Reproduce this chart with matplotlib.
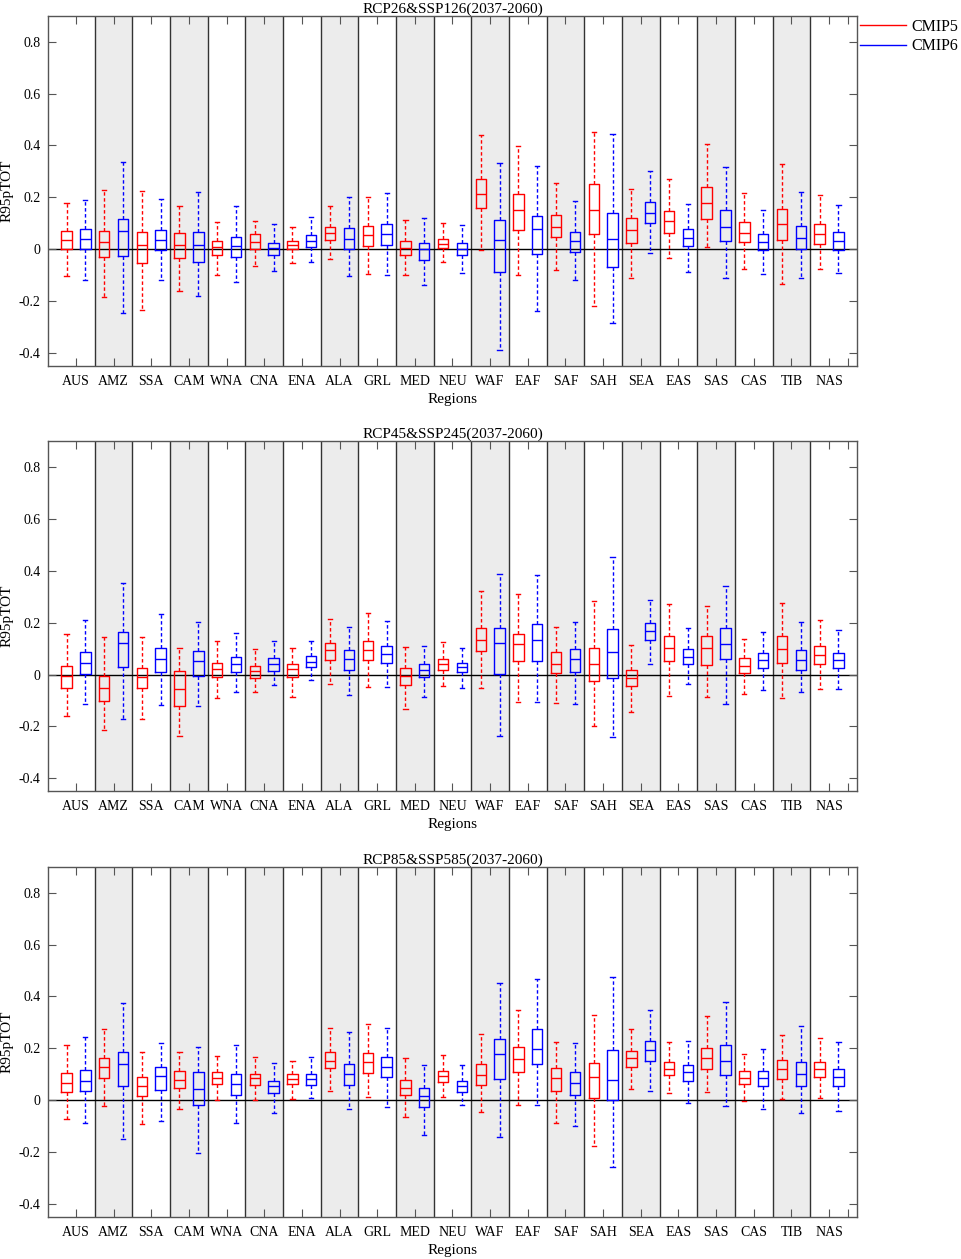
import matplotlib
matplotlib.use('Agg')
import matplotlib.pyplot as plt
from matplotlib.lines import Line2D

plt.rcParams['font.family'] = ['Liberation Serif', 'DejaVu Serif']

regions = ['AUS', 'AMZ', 'SSA', 'CAM', 'WNA', 'CNA', 'ENA', 'ALA', 'GRL', 'MED', 'NEU',
           'WAF', 'EAF', 'SAF', 'SAH', 'SEA', 'EAS', 'SAS', 'CAS', 'TIB', 'NAS']
titles = ['RCP26&SSP126(2037-2060)', 'RCP45&SSP245(2037-2060)', 'RCP85&SSP585(2037-2060)']
series_names = ['CMIP5', 'CMIP6']
yticks = [-0.4, -0.2, 0, 0.2, 0.4, 0.6, 0.8]
ytick_labels = ['-0.4', '-0.2', '0', '0.2', '0.4', '0.6', '0.8']

# ---- Panel 1: RCP26 & SSP126 ----
p1_c5_lo = [-0.105, -0.184, -0.233, -0.162, -0.099, -0.064, -0.054, -0.039, -0.094, -0.100, -0.051,
            -0.003, -0.100, -0.081, -0.217, -0.109, -0.035, 0.009, -0.078, -0.135, -0.075]
p1_c5_q1 = [0.000, -0.031, -0.054, -0.032, -0.021, 0.000, 0.000, 0.035, 0.014, -0.023, 0.003,
            0.157, 0.075, 0.046, 0.059, 0.024, 0.064, 0.118, 0.027, 0.037, 0.022]
p1_c5_med = [0.035, 0.028, 0.018, 0.018, 0.008, 0.026, 0.015, 0.062, 0.053, 0.005, 0.022,
             0.212, 0.152, 0.087, 0.152, 0.075, 0.107, 0.180, 0.064, 0.096, 0.058]
p1_c5_q3 = [0.072, 0.072, 0.068, 0.064, 0.032, 0.057, 0.032, 0.086, 0.091, 0.033, 0.041,
            0.271, 0.212, 0.132, 0.251, 0.121, 0.149, 0.238, 0.104, 0.156, 0.096]
p1_c5_hi = [0.180, 0.229, 0.225, 0.165, 0.105, 0.110, 0.085, 0.165, 0.202, 0.112, 0.102,
            0.440, 0.397, 0.255, 0.450, 0.234, 0.269, 0.406, 0.217, 0.329, 0.208]

p1_c6_lo = [-0.120, -0.246, -0.117, -0.181, -0.127, -0.085, -0.051, -0.102, -0.098, -0.136, -0.090,
            -0.388, -0.238, -0.118, -0.286, -0.013, -0.086, -0.112, -0.094, -0.112, -0.091]
p1_c6_q1 = [0.000, -0.027, -0.003, -0.051, -0.030, -0.024, 0.008, 0.000, 0.018, -0.040, -0.022,
            -0.089, -0.019, -0.010, -0.069, 0.102, 0.012, 0.032, -0.004, 0.000, -0.003]
p1_c6_med = [0.039, 0.071, 0.036, 0.015, 0.012, 0.003, 0.032, 0.040, 0.057, -0.001, 0.000,
             0.035, 0.077, 0.033, 0.039, 0.141, 0.045, 0.084, 0.028, 0.044, 0.030]
p1_c6_q3 = [0.077, 0.117, 0.075, 0.067, 0.048, 0.023, 0.055, 0.082, 0.096, 0.024, 0.024,
            0.113, 0.129, 0.068, 0.140, 0.181, 0.078, 0.150, 0.059, 0.089, 0.067]
p1_c6_hi = [0.190, 0.336, 0.194, 0.220, 0.165, 0.098, 0.125, 0.202, 0.215, 0.122, 0.095,
            0.331, 0.322, 0.185, 0.446, 0.300, 0.176, 0.315, 0.150, 0.221, 0.172]

# ---- Panel 2: RCP45 & SSP245 ----
p2_c5_lo = [-0.161, -0.212, -0.172, -0.237, -0.090, -0.068, -0.086, -0.035, -0.049, -0.134, -0.046,
            -0.050, -0.105, -0.111, -0.199, -0.143, -0.084, -0.087, -0.076, -0.090, -0.054]
p2_c5_q1 = [-0.050, -0.103, -0.053, -0.122, -0.010, -0.012, -0.010, 0.055, 0.055, -0.039, 0.017,
            0.089, 0.051, 0.005, -0.023, -0.045, 0.051, 0.036, 0.006, 0.045, 0.042]
p2_c5_med = [-0.006, -0.051, -0.010, -0.055, 0.021, 0.013, 0.021, 0.093, 0.094, -0.006, 0.039,
             0.135, 0.116, 0.042, 0.039, -0.013, 0.104, 0.103, 0.033, 0.100, 0.077]
p2_c5_q3 = [0.033, -0.005, 0.027, 0.012, 0.046, 0.033, 0.039, 0.121, 0.129, 0.027, 0.060,
            0.181, 0.158, 0.085, 0.102, 0.019, 0.147, 0.150, 0.063, 0.147, 0.111]
p2_c5_hi = [0.158, 0.143, 0.143, 0.104, 0.130, 0.100, 0.104, 0.215, 0.239, 0.107, 0.125,
            0.320, 0.311, 0.185, 0.283, 0.113, 0.273, 0.265, 0.138, 0.277, 0.210]

p2_c6_lo = [-0.114, -0.172, -0.118, -0.122, -0.067, -0.041, -0.022, -0.078, -0.049, -0.085, -0.050,
            -0.235, -0.107, -0.112, -0.241, 0.042, -0.037, -0.112, -0.058, -0.068, -0.054]
p2_c6_q1 = [0.003, 0.030, 0.010, -0.006, 0.008, 0.014, 0.030, 0.019, 0.046, -0.010, 0.008,
            0.001, 0.054, 0.009, -0.015, 0.132, 0.042, 0.060, 0.027, 0.019, 0.027]
p2_c6_med = [0.044, 0.120, 0.060, 0.053, 0.040, 0.040, 0.050, 0.059, 0.078, 0.018, 0.028,
             0.120, 0.134, 0.059, 0.085, 0.167, 0.069, 0.118, 0.057, 0.057, 0.055]
p2_c6_q3 = [0.087, 0.165, 0.102, 0.091, 0.068, 0.062, 0.072, 0.093, 0.111, 0.040, 0.046,
            0.181, 0.193, 0.099, 0.174, 0.197, 0.099, 0.179, 0.082, 0.094, 0.084]
p2_c6_hi = [0.211, 0.352, 0.235, 0.204, 0.161, 0.129, 0.129, 0.185, 0.208, 0.109, 0.103,
            0.387, 0.383, 0.204, 0.454, 0.289, 0.181, 0.343, 0.162, 0.201, 0.171]

# ---- Panel 3: RCP85 & SSP585 ----
p3_c5_lo = [-0.072, -0.023, -0.090, -0.032, -0.001, -0.001, 0.004, 0.037, 0.012, -0.064, 0.012,
            -0.046, -0.018, -0.086, -0.175, 0.042, 0.028, 0.033, -0.003, 0.003, 0.008]
p3_c5_q1 = [0.033, 0.087, 0.018, 0.049, 0.062, 0.059, 0.062, 0.123, 0.104, 0.022, 0.072,
            0.060, 0.108, 0.037, 0.010, 0.127, 0.096, 0.122, 0.063, 0.081, 0.089]
p3_c5_med = [0.068, 0.127, 0.055, 0.078, 0.087, 0.084, 0.081, 0.150, 0.147, 0.049, 0.093,
             0.099, 0.157, 0.085, 0.090, 0.161, 0.122, 0.163, 0.087, 0.121, 0.120]
p3_c5_q3 = [0.105, 0.162, 0.090, 0.111, 0.107, 0.103, 0.102, 0.186, 0.183, 0.078, 0.113,
            0.138, 0.207, 0.123, 0.143, 0.188, 0.149, 0.203, 0.112, 0.154, 0.149]
p3_c5_hi = [0.214, 0.273, 0.186, 0.186, 0.171, 0.167, 0.150, 0.278, 0.292, 0.161, 0.176,
            0.256, 0.349, 0.224, 0.327, 0.273, 0.226, 0.325, 0.177, 0.253, 0.241]

p3_c6_lo = [-0.087, -0.148, -0.080, -0.205, -0.086, -0.048, 0.008, -0.035, -0.026, -0.134, -0.019,
            -0.141, -0.017, -0.099, -0.257, 0.036, -0.012, -0.022, -0.032, -0.049, -0.042]
p3_c6_q1 = [0.036, 0.053, 0.041, -0.018, 0.019, 0.027, 0.059, 0.059, 0.089, -0.026, 0.032,
            0.081, 0.139, 0.022, 0.001, 0.152, 0.073, 0.098, 0.055, 0.055, 0.055]
p3_c6_med = [0.075, 0.138, 0.094, 0.044, 0.064, 0.053, 0.080, 0.100, 0.127, 0.018, 0.055,
             0.177, 0.197, 0.068, 0.078, 0.192, 0.107, 0.153, 0.085, 0.102, 0.091]
p3_c6_q3 = [0.118, 0.184, 0.127, 0.107, 0.103, 0.076, 0.102, 0.140, 0.166, 0.046, 0.075,
            0.235, 0.274, 0.107, 0.192, 0.229, 0.136, 0.211, 0.113, 0.148, 0.122]
p3_c6_hi = [0.242, 0.376, 0.221, 0.205, 0.212, 0.144, 0.167, 0.264, 0.279, 0.134, 0.136,
            0.453, 0.468, 0.219, 0.475, 0.346, 0.230, 0.378, 0.199, 0.288, 0.223]

panels = [
    ((p1_c5_lo, p1_c5_q1, p1_c5_med, p1_c5_q3, p1_c5_hi),
     (p1_c6_lo, p1_c6_q1, p1_c6_med, p1_c6_q3, p1_c6_hi)),
    ((p2_c5_lo, p2_c5_q1, p2_c5_med, p2_c5_q3, p2_c5_hi),
     (p2_c6_lo, p2_c6_q1, p2_c6_med, p2_c6_q3, p2_c6_hi)),
    ((p3_c5_lo, p3_c5_q1, p3_c5_med, p3_c5_q3, p3_c5_hi),
     (p3_c6_lo, p3_c6_q1, p3_c6_med, p3_c6_q3, p3_c6_hi)),
]

colors = ['#ff0000', '#0000ff']
shade = '#ececec'
sep_color = '#333333'
spine_color = '#555555'

fig = plt.figure(figsize=(9.62, 12.59), dpi=100)
W, H = 962.0, 1259.0
ax_left_px, ax_right_px = 47.7, 857.3
ax_tops = [15.7, 441.0, 866.7]
ax_h_px = 350.3

n = len(regions)
for p, (title, data) in enumerate(zip(titles, panels)):
    top = ax_tops[p]
    ax = fig.add_axes([ax_left_px / W, 1 - (top + ax_h_px) / H,
                       (ax_right_px - ax_left_px) / W, ax_h_px / H])
    ax.set_xlim(0, 2 * n + 1)
    ax.set_ylim(-0.45, 0.9)
    for i in range(n):
        if i % 2 == 1:
            ax.axvspan(2 * i + 0.5, 2 * i + 2.5, color=shade, lw=0, zorder=0)
    for i in range(1, n):
        ax.axvline(2 * i + 0.5, color=sep_color, lw=1.0, zorder=1)
    ax.axhline(0, color='black', lw=1.0, zorder=1.5)

    for s, (lo, q1, med, q3, hi) in enumerate(data):
        c = colors[s]
        stats = [dict(whislo=lo[i], q1=q1[i], med=med[i], q3=q3[i], whishi=hi[i], label='')
                 for i in range(n)]
        pos = [2 * i + 1 + s for i in range(n)]
        ax.bxp(stats, positions=pos, widths=0.55, capwidths=0.22, showfliers=False,
               manage_ticks=False,
               boxprops=dict(color=c, lw=1.0),
               medianprops=dict(color=c, lw=1.0),
               whiskerprops=dict(color=c, lw=1.0, linestyle=(0, (2.5, 1.8))),
               capprops=dict(color=c, lw=1.0))

    ax.set_xticks([2 * i + 1.5 for i in range(n)] + [2 * n + 0.5])
    ax.set_xticklabels(regions + [''])
    ax.set_yticks(yticks)
    ax.set_yticklabels(ytick_labels)
    ax.tick_params(direction='in', top=True, right=True, length=5.5, width=0.8,
                   color=spine_color, labelsize=10, pad=5, labelcolor='black')
    ax.tick_params(axis='x', pad=6.5)
    for sp in ax.spines.values():
        sp.set_color(spine_color)
        sp.set_linewidth(1.0)
        sp.set_zorder(3)
    ax.set_title(title, fontsize=11, pad=2)
    ax.set_xlabel('Regions', fontsize=11, labelpad=3.5)
    ax.set_ylabel('R95pTOT', fontsize=11, labelpad=4)

handles = [Line2D([], [], color=colors[0], lw=1.0), Line2D([], [], color=colors[1], lw=1.0)]
fig.legend(handles, series_names, loc='upper left', bbox_to_anchor=(860.0 / W, 1 - 19.0 / H),
           frameon=False, fontsize=11.5, handlelength=2.9, handletextpad=0.3,
           borderpad=0, borderaxespad=0, labelspacing=0.2)

fig.savefig('out.png', dpi=100)
